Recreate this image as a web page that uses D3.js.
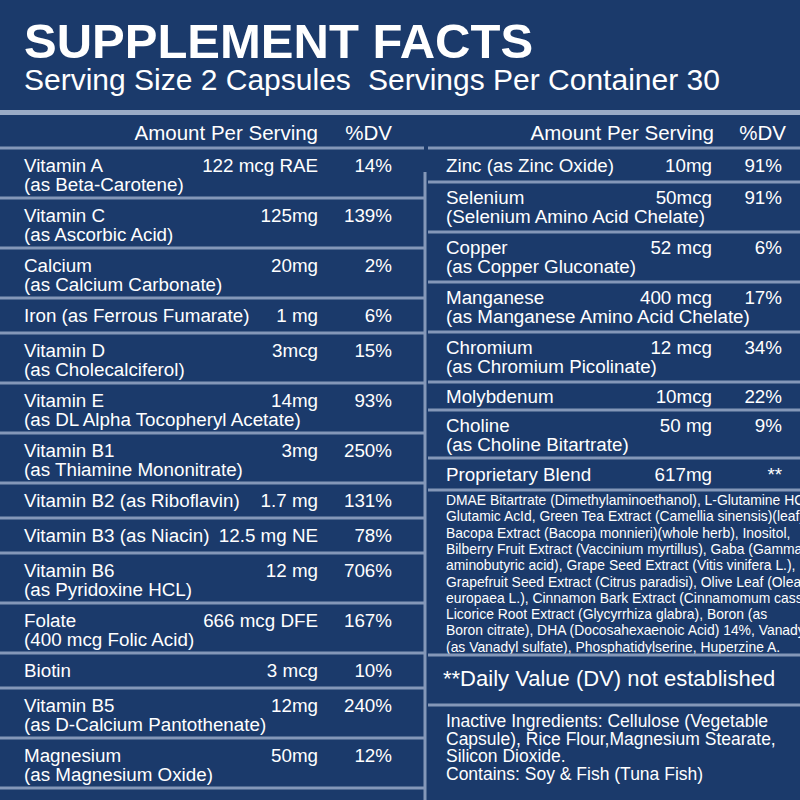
<!DOCTYPE html>
<html><head><meta charset="utf-8">
<script src="https://cdn.jsdelivr.net/npm/d3@7"></script>
<style>body{margin:0;background:#1b3a6b}</style>
</head><body><svg></svg>
<script>
var leftNames = ["Vitamin A","Vitamin C","Calcium","Iron (as Ferrous Fumarate)","Vitamin D","Vitamin E","Vitamin B1","Vitamin B2 (as Riboflavin)","Vitamin B3 (as Niacin)","Vitamin B6","Folate","Biotin","Vitamin B5","Magnesium"];
var leftSubs = ["(as Beta-Carotene)","(as Ascorbic Acid)","(as Calcium Carbonate)","","(as Cholecalciferol)","(as DL Alpha Tocopheryl Acetate)","(as Thiamine Mononitrate)","","","(as Pyridoxine HCL)","(400 mcg Folic Acid)","","(as D-Calcium Pantothenate)","(as Magnesium Oxide)"];
var leftAmounts = ["122 mcg RAE","125mg","20mg","1 mg","3mcg","14mg","3mg","1.7 mg","12.5 mg NE","12 mg","666 mcg DFE","3 mcg","12mg","50mg"];
var leftDV = ["14%","139%","2%","6%","15%","93%","250%","131%","78%","706%","167%","10%","240%","12%"];

var rightNames = ["Zinc (as Zinc Oxide)","Selenium","Copper","Manganese","Chromium","Molybdenum","Choline","Proprietary Blend"];
var rightSubs = ["","(Selenium Amino Acid Chelate)","(as Copper Gluconate)","(as Manganese Amino Acid Chelate)","(as Chromium Picolinate)","","(as Choline Bitartrate)",""];
var rightAmounts = ["10mg","50mcg","52 mcg","400 mcg","12 mcg","10mcg","50 mg","617mg"];
var rightDV = ["91%","91%","6%","17%","34%","22%","9%","**"];

var blendLines = ["DMAE Bitartrate (Dimethylaminoethanol), L-Glutamine HCL,","Glutamic AcId, Green Tea Extract (Camellia sinensis)(leaf),","Bacopa Extract (Bacopa monnieri)(whole herb), Inositol,","Bilberry Fruit Extract (Vaccinium myrtillus), Gaba (Gamma","aminobutyric acid), Grape Seed Extract (Vitis vinifera L.),","Grapefruit Seed Extract (Citrus paradisi), Olive Leaf (Olea","europaea L.), Cinnamon Bark Extract (Cinnamomum cassia),","Licorice Root Extract (Glycyrrhiza glabra), Boron (as","Boron citrate), DHA (Docosahexaenoic Acid) 14%, Vanadyl","(as Vanadyl sulfate), Phosphatidylserine, Huperzine A."];
var inactiveLines = ["Inactive Ingredients: Cellulose (Vegetable","Capsule), Rice Flour,Magnesium Stearate,","Silicon Dioxide.","Contains: Soy & Fish (Tuna Fish)"];

var W = 800, H = 800, line = "#8497b8", font = "Liberation Sans, Arial, sans-serif";
var svg = d3.select("svg").attr("width", W).attr("height", H).style("font-family", font);
svg.append("rect").attr("width", W).attr("height", H).attr("fill", "#1b3a6b");

svg.append("text").attr("x", 24).attr("y", 58).attr("fill", "#fff").attr("font-size", 49).attr("font-weight", "bold").text("SUPPLEMENT FACTS");
svg.append("text").attr("x", 24).attr("y", 90).attr("fill", "#fff").attr("font-size", 30).text("Serving Size 2 Capsules");
svg.append("text").attr("x", 368).attr("y", 90).attr("fill", "#fff").attr("font-size", 30).text("Servings Per Container 30");
svg.append("rect").attr("x", 0).attr("y", 110).attr("width", W).attr("height", 5).attr("fill", "#9aabc6");

var FS = 18.8;
function txt(x, y, s, size, anchor) {
  svg.append("text").attr("x", x).attr("y", y).attr("fill", "#fff").attr("font-size", size || FS)
    .attr("text-anchor", anchor || "start").text(s);
}

// headers
txt(318, 140, "Amount Per Serving", 20.5, "end"); txt(392, 140, "%DV", 20.5, "end");
txt(714, 140, "Amount Per Serving", 20.5, "end"); txt(786, 140, "%DV", 20.5, "end");
svg.append("line").attr("x1", 0).attr("x2", 424).attr("y1", 148).attr("y2", 148).attr("stroke", line).attr("stroke-width", 3);
svg.append("line").attr("x1", 428).attr("x2", W).attr("y1", 148).attr("y2", 148).attr("stroke", line).attr("stroke-width", 3);
svg.append("line").attr("x1", 425).attr("x2", 425).attr("y1", 172).attr("y2", H).attr("stroke", line).attr("stroke-width", 3);

// left rows: height units from lines
var leftUnits = leftSubs.map(function(s){ return s ? 50 : 35; });
var leftStart = d3.cumsum([0].concat(leftUnits));
var yL = d3.scaleLinear().domain([0, d3.sum(leftUnits)]).range([148, 788]);
leftNames.forEach(function(n, i) {
  var y0 = yL(leftStart[i]);
  txt(24, y0 + 24, n); if (leftSubs[i]) txt(24, y0 + 43, leftSubs[i]);
  txt(318, y0 + 24, leftAmounts[i], FS, "end"); txt(392, y0 + 24, leftDV[i], FS, "end");
  svg.append("line").attr("x1", 0).attr("x2", 424).attr("y1", yL(leftStart[i + 1])).attr("y2", yL(leftStart[i + 1])).attr("stroke", line).attr("stroke-width", 3);
});

// right rows
var rightUnits = [34, 50, 50, 50, 50, 28, 48, 32];
var rightStart = d3.cumsum([0].concat(rightUnits));
var yR = d3.scaleLinear().domain([0, d3.sum(rightUnits)]).range([148, 490]);
rightNames.forEach(function(n, i) {
  var y0 = yR(rightStart[i]);
  var base = rightSubs[i] ? y0 + 22 : y0 + rightUnits[i] / 2 + 7;
  txt(446, base, n); if (rightSubs[i]) txt(446, y0 + 41, rightSubs[i]);
  txt(712, base, rightAmounts[i], FS, "end"); txt(782, base, rightDV[i], FS, "end");
  svg.append("line").attr("x1", 428).attr("x2", W).attr("y1", yR(rightStart[i + 1])).attr("y2", yR(rightStart[i + 1])).attr("stroke", line).attr("stroke-width", 3);
});

blendLines.forEach(function(s, i) { txt(446, 505 + i * 16.3, s, 13.9); });
[655, 705].forEach(function(y) {
  svg.append("line").attr("x1", 428).attr("x2", W).attr("y1", y).attr("y2", y).attr("stroke", line).attr("stroke-width", 3);
});
txt(443, 686, "**Daily Value (DV) not established", 22);
inactiveLines.forEach(function(s, i) { txt(446, 727 + i * 17.5, s, 17.5); });
</script></body></html>
